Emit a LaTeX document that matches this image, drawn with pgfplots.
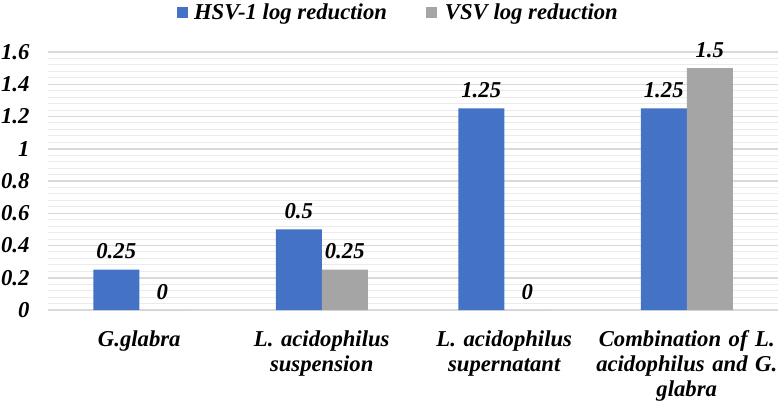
\documentclass[border=0pt]{standalone}
\usepackage{fontspec}
\setmainfont{Liberation Serif}
\usepackage{pgfplots}
\pgfplotsset{compat=1.18}
\definecolor{hsv}{HTML}{4472C4}
\definecolor{vsv}{HTML}{A5A5A5}
\definecolor{majgrid}{HTML}{D9D9D9}
\definecolor{mingrid}{HTML}{EBEBEB}
\newcommand{\lf}{\fontsize{22.7}{25}\selectfont\bfseries\itshape}
\begin{document}
\begin{tikzpicture}
\begin{axis}[
  scale only axis, width=730pt, height=258pt,
  xmin=-0.5, xmax=3.5, ymin=0, ymax=1.6,
  ybar=0pt, bar width=46pt,
  axis line style={draw=none},
  major tick length=0pt, minor tick length=0pt,
  xtick={0,1,2,3},
  xticklabels={G.glabra, L. acidophilus\\suspension, L. acidophilus\\supernatant, Combination of L.\\acidophilus and G.\\glabra},
  ytick={0,0.2,0.4,0.6,0.8,1,1.2,1.4,1.6},
  yticklabels={0,0.2,0.4,0.6,0.8,1,1.2,1.4,1.6},
  minor y tick num=4,
  ymajorgrids, yminorgrids,
  major grid style={majgrid, line width=1.5pt},
  minor grid style={mingrid, line width=1pt},
  tick label style={font=\lf},
  xticklabel style={align=center, text width=200pt, yshift=-17pt},
  yticklabel style={xshift=-15pt},
  point meta=explicit symbolic,
  nodes near coords,
  every node near coord/.append style={font=\lf, yshift=7pt},
  legend columns=2,
  legend style={at={(0.480,1.155)}, anchor=center, draw=none, fill=none, font=\lf,
    /tikz/every even column/.append style={column sep=37pt}},
]
\addplot[fill=hsv, draw=none,
  legend image code/.code={\fill[hsv] (0pt,-5.5pt) rectangle (11pt,5.5pt); \path (15pt,0pt);}]
  coordinates {(0,0.25)[0.25] (1,0.5)[0.5] (2,1.25)[1.25] (3,1.25)[1.25]};
\addlegendentry{HSV-1 log reduction}
\addplot[fill=vsv, draw=none,
  legend image code/.code={\fill[vsv] (0pt,-5.5pt) rectangle (11pt,5.5pt); \path (17pt,0pt);}]
  coordinates {(0,0)[0] (1,0.25)[0.25] (2,0)[0] (3,1.5)[1.5]};
\addlegendentry{VSV log reduction}
\end{axis}
\pgfresetboundingbox
\useasboundingbox ([xshift=-48pt,yshift=-92pt]current axis.south west) rectangle ([yshift=52pt]current axis.north east);
\end{tikzpicture}
\end{document}
